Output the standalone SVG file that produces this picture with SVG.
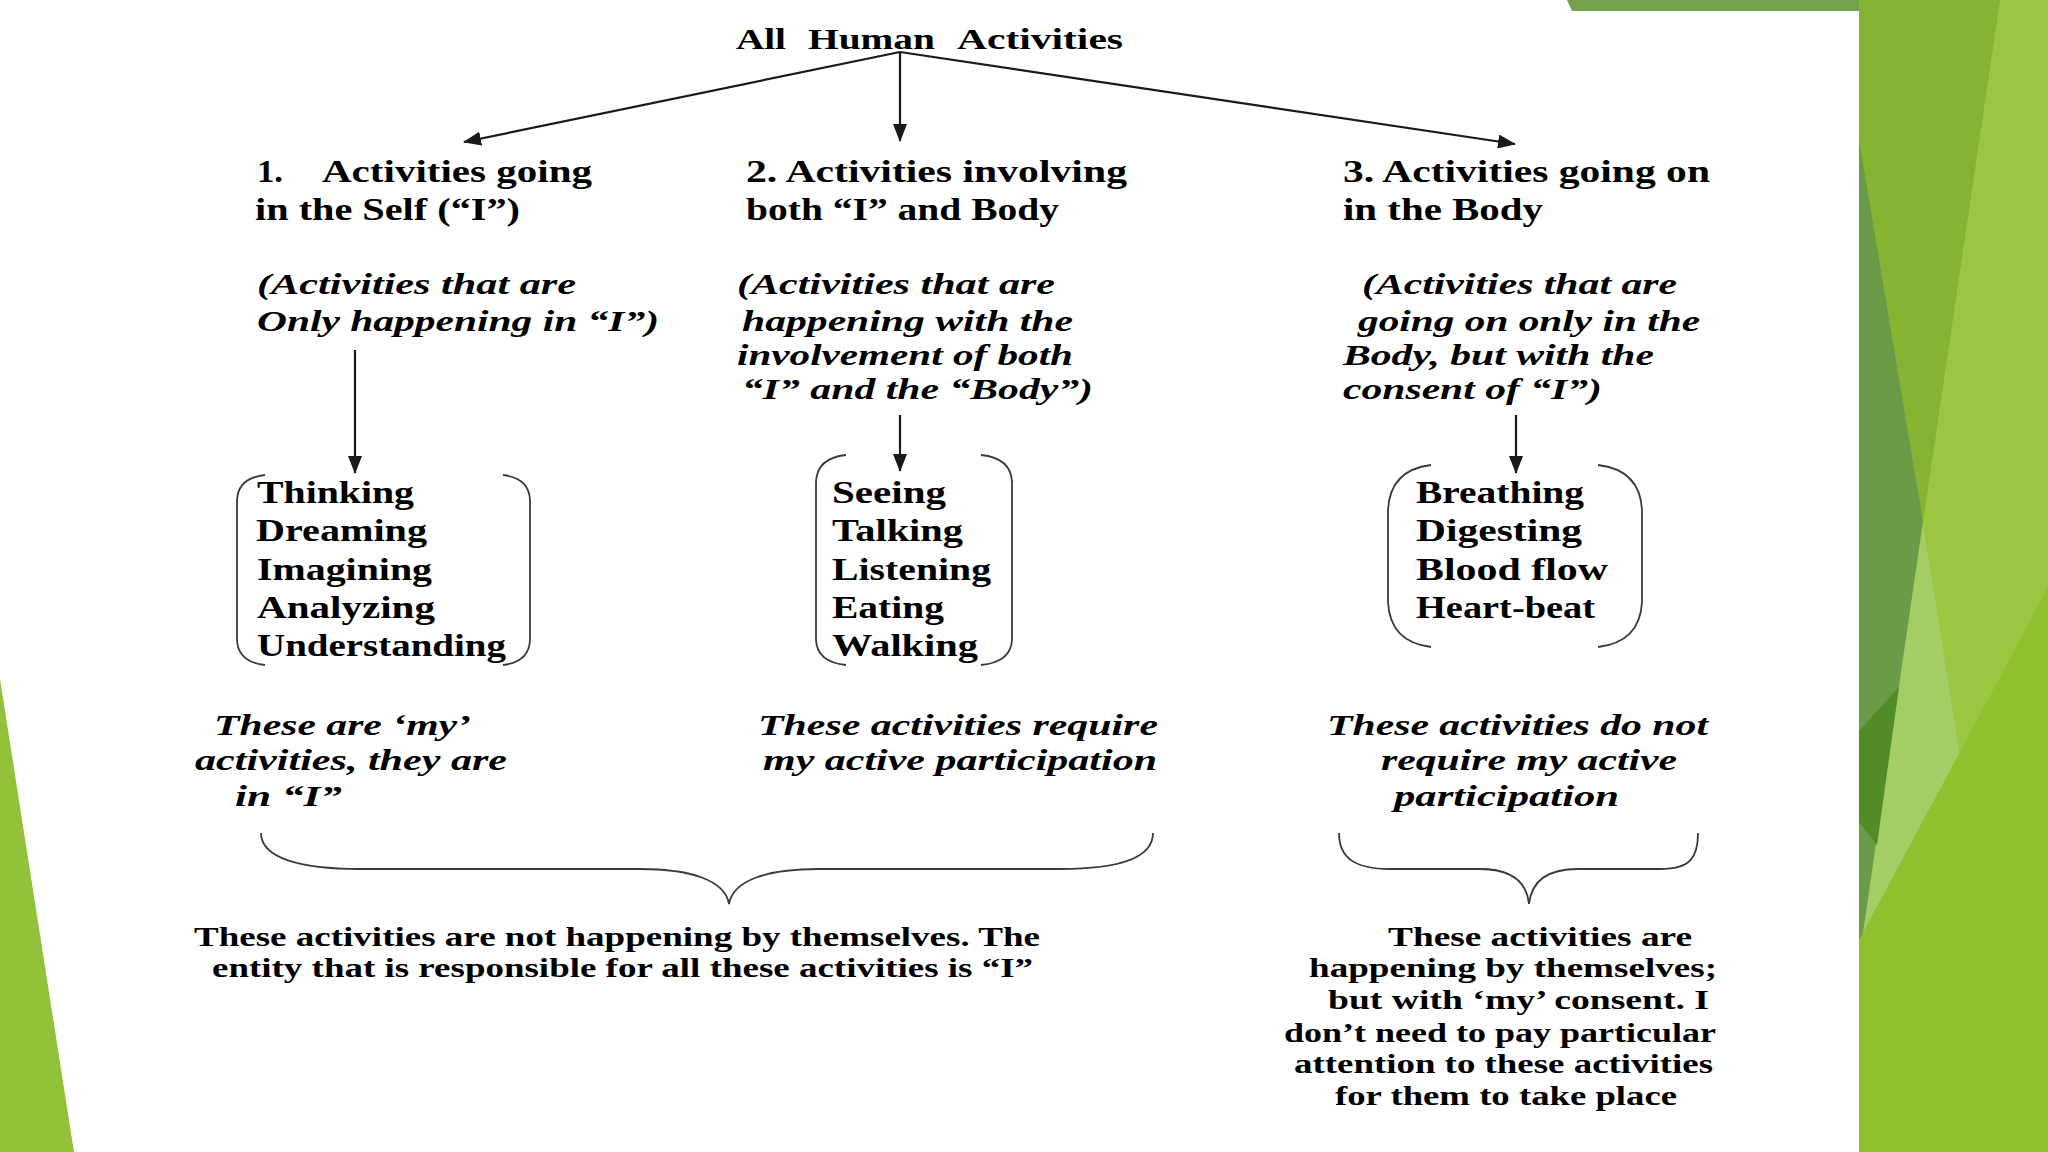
<svg xmlns="http://www.w3.org/2000/svg" width="2048" height="1152" viewBox="0 0 2048 1152">
<style>
.tx{font-family:"Liberation Serif","Times New Roman",serif;font-weight:bold;fill:#000}
.it{font-style:italic}
.s25{font-size:29px}.s27{font-size:31px}.s28{font-size:32px}.s26{font-size:29px}.s24{font-size:28px}
.ln{stroke:#1a1a1a;stroke-width:2.2;fill:none}
.br{stroke:#3a3a3a;stroke-width:1.8;fill:none}
</style>
<defs>
<marker id="ah" markerUnits="userSpaceOnUse" markerWidth="18" markerHeight="14" refX="17" refY="7" orient="auto">
<path d="M0,0 L18,7 L0,14 z" fill="#1a1a1a"/>
</marker>
</defs>
<g id="background">
<rect x="0" y="0" width="2048" height="1152" fill="#ffffff"/>
<polygon points="0,679 74,1152 0,1152" fill="#92c23a"/>
<polygon points="1567,0 1859,0 1859,11 1572,11" fill="#74a04f"/>
<rect x="1859" y="0" width="189" height="1152" fill="#84b431"/>
<polygon points="1859,140 1923,522 1862,940 1859,940" fill="#6a9b48"/>
<polygon points="2000,0 2048,0 2048,588 1960,755 1923,522" fill="#9bc641"/>
<polygon points="1923,522 1960,755 1862,940" fill="#a3cd65"/>
<polygon points="1859,731 1899,687 1877,845 1859,822" fill="#528c27"/>
<polygon points="1859,940 2048,588 2048,1152 1859,1152" fill="#8fc02d"/>
</g>
<g id="connectors">
<line class="ln" x1="900" y1="52" x2="464" y2="142" marker-end="url(#ah)"/>
<line class="ln" x1="900" y1="52" x2="900" y2="141" marker-end="url(#ah)"/>
<line class="ln" x1="900" y1="52" x2="1515" y2="144" marker-end="url(#ah)"/>
<line class="ln" x1="355" y1="350" x2="355" y2="473" marker-end="url(#ah)"/>
<line class="ln" x1="900" y1="415" x2="900" y2="471" marker-end="url(#ah)"/>
<line class="ln" x1="1516" y1="415" x2="1516" y2="473" marker-end="url(#ah)"/>
<path class="br" d="M261 833 C261 858 300 869 360 869 L640 869 C690 869 725 880 729 904 C733 880 768 869 818 869 L1060 869 C1120 869 1153 858 1153 833"/>
<path class="br" d="M1339 833 C1339 858 1355 869 1390 869 L1480 869 C1515 869 1527 885 1529 904 C1531 885 1543 869 1578 869 L1660 869 C1690 869 1698 858 1698 833"/>
</g>
<g id="root">
<text class="tx s25" x="736" y="49" textLength="50" lengthAdjust="spacingAndGlyphs">All</text>
<text class="tx s25" x="808" y="49" textLength="127" lengthAdjust="spacingAndGlyphs">Human</text>
<text class="tx s25" x="957" y="49" textLength="166" lengthAdjust="spacingAndGlyphs">Activities</text>
</g>
<g id="cat1">
<text class="tx s27" x="257" y="182" textLength="26" lengthAdjust="spacingAndGlyphs">1.</text>
<text class="tx s27" x="322" y="182" textLength="270" lengthAdjust="spacingAndGlyphs">Activities going</text>
<text class="tx s27" x="255" y="220" textLength="265" lengthAdjust="spacingAndGlyphs">in the Self (“I”)</text>
<text class="tx it s26" x="257" y="294" textLength="319" lengthAdjust="spacingAndGlyphs">(Activities that are</text>
<text class="tx it s26" x="257" y="331" textLength="402" lengthAdjust="spacingAndGlyphs">Only happening in “I”)</text>
</g>
<g id="cat2">
<text class="tx s27" x="746" y="182" textLength="381" lengthAdjust="spacingAndGlyphs">2. Activities involving</text>
<text class="tx s27" x="746" y="220" textLength="313" lengthAdjust="spacingAndGlyphs">both “I” and Body</text>
<text class="tx it s26" x="737" y="294" textLength="318" lengthAdjust="spacingAndGlyphs">(Activities that are</text>
<text class="tx it s26" x="742" y="331" textLength="331" lengthAdjust="spacingAndGlyphs">happening with the</text>
<text class="tx it s26" x="737" y="365" textLength="336" lengthAdjust="spacingAndGlyphs">involvement of both</text>
<text class="tx it s26" x="742" y="399" textLength="351" lengthAdjust="spacingAndGlyphs">“I” and the “Body”)</text>
</g>
<g id="cat3">
<text class="tx s27" x="1343" y="182" textLength="367" lengthAdjust="spacingAndGlyphs">3. Activities going on</text>
<text class="tx s27" x="1343" y="220" textLength="200" lengthAdjust="spacingAndGlyphs">in the Body</text>
<text class="tx it s26" x="1362" y="294" textLength="315" lengthAdjust="spacingAndGlyphs">(Activities that are</text>
<text class="tx it s26" x="1358" y="331" textLength="342" lengthAdjust="spacingAndGlyphs">going on only in the</text>
<text class="tx it s26" x="1343" y="365" textLength="311" lengthAdjust="spacingAndGlyphs">Body, but with the</text>
<text class="tx it s26" x="1343" y="399" textLength="259" lengthAdjust="spacingAndGlyphs">consent of “I”)</text>
</g>
<g id="list1">
<path class="br" d="M265 475 Q238 478 237 500 L237 640 Q238 662 265 665"/>
<path class="br" d="M503 475 Q529 478 530 500 L530 640 Q529 662 503 665"/>
<text class="tx s28" x="257" y="503" textLength="157" lengthAdjust="spacingAndGlyphs">Thinking</text>
<text class="tx s28" x="256" y="541" textLength="171" lengthAdjust="spacingAndGlyphs">Dreaming</text>
<text class="tx s28" x="257" y="580" textLength="175" lengthAdjust="spacingAndGlyphs">Imagining</text>
<text class="tx s28" x="257" y="618" textLength="178" lengthAdjust="spacingAndGlyphs">Analyzing</text>
<text class="tx s28" x="257" y="656" textLength="249" lengthAdjust="spacingAndGlyphs">Understanding</text>
</g>
<g id="list2">
<path class="br" d="M846 455 Q817 458 816 482 L816 640 Q817 662 846 665"/>
<path class="br" d="M981 455 Q1011 458 1012 482 L1012 640 Q1011 662 981 665"/>
<text class="tx s28" x="832" y="503" textLength="114" lengthAdjust="spacingAndGlyphs">Seeing</text>
<text class="tx s28" x="832" y="541" textLength="131" lengthAdjust="spacingAndGlyphs">Talking</text>
<text class="tx s28" x="832" y="580" textLength="159" lengthAdjust="spacingAndGlyphs">Listening</text>
<text class="tx s28" x="832" y="618" textLength="112" lengthAdjust="spacingAndGlyphs">Eating</text>
<text class="tx s28" x="832" y="656" textLength="146" lengthAdjust="spacingAndGlyphs">Walking</text>
</g>
<g id="list3">
<path class="br" d="M1431 465 Q1390 470 1388 510 L1388 602 Q1390 642 1431 647"/>
<path class="br" d="M1598 465 Q1640 470 1642 510 L1642 602 Q1640 642 1598 647"/>
<text class="tx s28" x="1416" y="503" textLength="168" lengthAdjust="spacingAndGlyphs">Breathing</text>
<text class="tx s28" x="1416" y="541" textLength="166" lengthAdjust="spacingAndGlyphs">Digesting</text>
<text class="tx s28" x="1416" y="580" textLength="192" lengthAdjust="spacingAndGlyphs">Blood flow</text>
<text class="tx s28" x="1416" y="618" textLength="179" lengthAdjust="spacingAndGlyphs">Heart-beat</text>
</g>
<g id="note1">
<text class="tx it s26" x="214" y="735" textLength="257" lengthAdjust="spacingAndGlyphs">These are ‘my’</text>
<text class="tx it s26" x="195" y="770" textLength="312" lengthAdjust="spacingAndGlyphs">activities, they are</text>
<text class="tx it s26" x="235" y="806" textLength="107" lengthAdjust="spacingAndGlyphs">in “I”</text>
</g>
<g id="note2">
<text class="tx it s26" x="758" y="735" textLength="400" lengthAdjust="spacingAndGlyphs">These activities require</text>
<text class="tx it s26" x="763" y="770" textLength="394" lengthAdjust="spacingAndGlyphs">my active participation</text>
</g>
<g id="note3">
<text class="tx it s26" x="1327" y="735" textLength="381" lengthAdjust="spacingAndGlyphs">These activities do not</text>
<text class="tx it s26" x="1381" y="770" textLength="296" lengthAdjust="spacingAndGlyphs">require my active</text>
<text class="tx it s26" x="1394" y="806" textLength="225" lengthAdjust="spacingAndGlyphs">participation</text>
</g>
<g id="summary1">
<text class="tx s24" x="194" y="946" textLength="846" lengthAdjust="spacingAndGlyphs">These activities are not happening by themselves.  The</text>
<text class="tx s24" x="212" y="977" textLength="821" lengthAdjust="spacingAndGlyphs">entity that is responsible for all these activities is “I”</text>
</g>
<g id="summary2">
<text class="tx s24" x="1388" y="946" textLength="304" lengthAdjust="spacingAndGlyphs">These activities are</text>
<text class="tx s24" x="1309" y="977" textLength="408" lengthAdjust="spacingAndGlyphs">happening by themselves;</text>
<text class="tx s24" x="1328" y="1009" textLength="381" lengthAdjust="spacingAndGlyphs">but with ‘my’ consent. I</text>
<text class="tx s24" x="1284" y="1042" textLength="432" lengthAdjust="spacingAndGlyphs">don’t need to pay particular</text>
<text class="tx s24" x="1294" y="1073" textLength="419" lengthAdjust="spacingAndGlyphs">attention to these activities</text>
<text class="tx s24" x="1335" y="1105" textLength="342" lengthAdjust="spacingAndGlyphs">for them to take place</text>
</g>
</svg>
